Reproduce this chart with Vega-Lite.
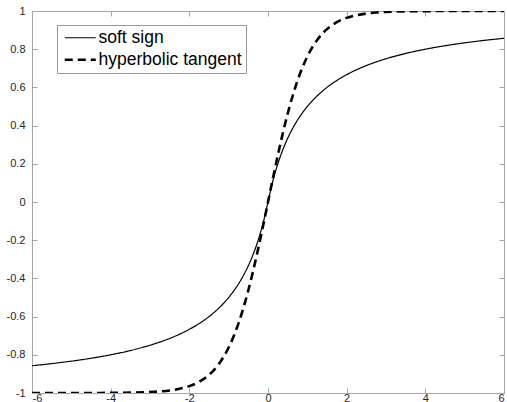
{
  "$schema": "https://vega.github.io/schema/vega-lite/v6.json",
  "width": 472,
  "height": 382,
  "autosize": {"type": "none"},
  "padding": {"left": 32, "top": 11, "right": 3, "bottom": 9},
  "background": "white",
  "config": {
    "view": {"stroke": null},
    "font": "Liberation Sans",
    "axis": {
      "domainColor": "#a6a6a6",
      "domainWidth": 1,
      "tickColor": "#a6a6a6",
      "tickSize": -5,
      "grid": false,
      "labelFont": "Liberation Sans",
      "labelFontSize": 11,
      "labelColor": "#262626",
      "title": null
    },
    "legend": {
      "orient": "none",
      "legendX": 25,
      "legendY": 14,
      "strokeColor": "#9a9a9a",
      "fillColor": "white",
      "padding": 4,
      "labelFont": "Liberation Sans",
      "labelFontSize": 17.5,
      "labelColor": "black",
      "labelOffset": 20,
      "symbolType": "M-1,0H5.2",
      "symbolSize": 100,
      "symbolStrokeColor": "black",
      "rowPadding": 3
    }
  },
  "data": {
    "values": [
      {"x": -6, "y": -0.857143, "series": "soft sign"},
      {"x": -5.5, "y": -0.846154, "series": "soft sign"},
      {"x": -5, "y": -0.833333, "series": "soft sign"},
      {"x": -4.5, "y": -0.818182, "series": "soft sign"},
      {"x": -4, "y": -0.8, "series": "soft sign"},
      {"x": -3.5, "y": -0.777778, "series": "soft sign"},
      {"x": -3, "y": -0.75, "series": "soft sign"},
      {"x": -2.75, "y": -0.733333, "series": "soft sign"},
      {"x": -2.5, "y": -0.714286, "series": "soft sign"},
      {"x": -2.25, "y": -0.692308, "series": "soft sign"},
      {"x": -2, "y": -0.666667, "series": "soft sign"},
      {"x": -1.75, "y": -0.636364, "series": "soft sign"},
      {"x": -1.5, "y": -0.6, "series": "soft sign"},
      {"x": -1.375, "y": -0.578947, "series": "soft sign"},
      {"x": -1.25, "y": -0.555556, "series": "soft sign"},
      {"x": -1.125, "y": -0.529412, "series": "soft sign"},
      {"x": -1, "y": -0.5, "series": "soft sign"},
      {"x": -0.875, "y": -0.466667, "series": "soft sign"},
      {"x": -0.75, "y": -0.428571, "series": "soft sign"},
      {"x": -0.625, "y": -0.384615, "series": "soft sign"},
      {"x": -0.5, "y": -0.333333, "series": "soft sign"},
      {"x": -0.375, "y": -0.272727, "series": "soft sign"},
      {"x": -0.25, "y": -0.2, "series": "soft sign"},
      {"x": -0.125, "y": -0.111111, "series": "soft sign"},
      {"x": 0, "y": 0, "series": "soft sign"},
      {"x": 0.125, "y": 0.111111, "series": "soft sign"},
      {"x": 0.25, "y": 0.2, "series": "soft sign"},
      {"x": 0.375, "y": 0.272727, "series": "soft sign"},
      {"x": 0.5, "y": 0.333333, "series": "soft sign"},
      {"x": 0.625, "y": 0.384615, "series": "soft sign"},
      {"x": 0.75, "y": 0.428571, "series": "soft sign"},
      {"x": 0.875, "y": 0.466667, "series": "soft sign"},
      {"x": 1, "y": 0.5, "series": "soft sign"},
      {"x": 1.125, "y": 0.529412, "series": "soft sign"},
      {"x": 1.25, "y": 0.555556, "series": "soft sign"},
      {"x": 1.375, "y": 0.578947, "series": "soft sign"},
      {"x": 1.5, "y": 0.6, "series": "soft sign"},
      {"x": 1.75, "y": 0.636364, "series": "soft sign"},
      {"x": 2, "y": 0.666667, "series": "soft sign"},
      {"x": 2.25, "y": 0.692308, "series": "soft sign"},
      {"x": 2.5, "y": 0.714286, "series": "soft sign"},
      {"x": 2.75, "y": 0.733333, "series": "soft sign"},
      {"x": 3, "y": 0.75, "series": "soft sign"},
      {"x": 3.5, "y": 0.777778, "series": "soft sign"},
      {"x": 4, "y": 0.8, "series": "soft sign"},
      {"x": 4.5, "y": 0.818182, "series": "soft sign"},
      {"x": 5, "y": 0.833333, "series": "soft sign"},
      {"x": 5.5, "y": 0.846154, "series": "soft sign"},
      {"x": 6, "y": 0.857143, "series": "soft sign"},
      {"x": -6, "y": -0.999988, "series": "hyperbolic tangent"},
      {"x": -5.5, "y": -0.999967, "series": "hyperbolic tangent"},
      {"x": -5, "y": -0.999909, "series": "hyperbolic tangent"},
      {"x": -4.5, "y": -0.999753, "series": "hyperbolic tangent"},
      {"x": -4, "y": -0.999329, "series": "hyperbolic tangent"},
      {"x": -3.5, "y": -0.998178, "series": "hyperbolic tangent"},
      {"x": -3, "y": -0.995055, "series": "hyperbolic tangent"},
      {"x": -2.75, "y": -0.991815, "series": "hyperbolic tangent"},
      {"x": -2.5, "y": -0.986614, "series": "hyperbolic tangent"},
      {"x": -2.25, "y": -0.978026, "series": "hyperbolic tangent"},
      {"x": -2, "y": -0.964028, "series": "hyperbolic tangent"},
      {"x": -1.75, "y": -0.941376, "series": "hyperbolic tangent"},
      {"x": -1.5, "y": -0.905148, "series": "hyperbolic tangent"},
      {"x": -1.375, "y": -0.879827, "series": "hyperbolic tangent"},
      {"x": -1.25, "y": -0.848284, "series": "hyperbolic tangent"},
      {"x": -1.125, "y": -0.809301, "series": "hyperbolic tangent"},
      {"x": -1, "y": -0.761594, "series": "hyperbolic tangent"},
      {"x": -0.875, "y": -0.704248, "series": "hyperbolic tangent"},
      {"x": -0.75, "y": -0.635149, "series": "hyperbolic tangent"},
      {"x": -0.625, "y": -0.5546, "series": "hyperbolic tangent"},
      {"x": -0.5, "y": -0.462117, "series": "hyperbolic tangent"},
      {"x": -0.375, "y": -0.358357, "series": "hyperbolic tangent"},
      {"x": -0.25, "y": -0.244919, "series": "hyperbolic tangent"},
      {"x": -0.125, "y": -0.124353, "series": "hyperbolic tangent"},
      {"x": 0, "y": 0, "series": "hyperbolic tangent"},
      {"x": 0.125, "y": 0.124353, "series": "hyperbolic tangent"},
      {"x": 0.25, "y": 0.244919, "series": "hyperbolic tangent"},
      {"x": 0.375, "y": 0.358357, "series": "hyperbolic tangent"},
      {"x": 0.5, "y": 0.462117, "series": "hyperbolic tangent"},
      {"x": 0.625, "y": 0.5546, "series": "hyperbolic tangent"},
      {"x": 0.75, "y": 0.635149, "series": "hyperbolic tangent"},
      {"x": 0.875, "y": 0.704248, "series": "hyperbolic tangent"},
      {"x": 1, "y": 0.761594, "series": "hyperbolic tangent"},
      {"x": 1.125, "y": 0.809301, "series": "hyperbolic tangent"},
      {"x": 1.25, "y": 0.848284, "series": "hyperbolic tangent"},
      {"x": 1.375, "y": 0.879827, "series": "hyperbolic tangent"},
      {"x": 1.5, "y": 0.905148, "series": "hyperbolic tangent"},
      {"x": 1.75, "y": 0.941376, "series": "hyperbolic tangent"},
      {"x": 2, "y": 0.964028, "series": "hyperbolic tangent"},
      {"x": 2.25, "y": 0.978026, "series": "hyperbolic tangent"},
      {"x": 2.5, "y": 0.986614, "series": "hyperbolic tangent"},
      {"x": 2.75, "y": 0.991815, "series": "hyperbolic tangent"},
      {"x": 3, "y": 0.995055, "series": "hyperbolic tangent"},
      {"x": 3.5, "y": 0.998178, "series": "hyperbolic tangent"},
      {"x": 4, "y": 0.999329, "series": "hyperbolic tangent"},
      {"x": 4.5, "y": 0.999753, "series": "hyperbolic tangent"},
      {"x": 5, "y": 0.999909, "series": "hyperbolic tangent"},
      {"x": 5.5, "y": 0.999967, "series": "hyperbolic tangent"},
      {"x": 6, "y": 0.999988, "series": "hyperbolic tangent"}
    ]
  },
  "layer": [
    {
      "mark": {"type": "line", "color": "black", "interpolate": "monotone", "clip": true},
      "encoding": {
        "x": {
          "field": "x", "type": "quantitative",
          "scale": {"domain": [-6, 6], "nice": false, "zero": false},
          "axis": {"orient": "bottom", "values": [-6, -4, -2, 0, 2, 4, 6], "labelExpr": "datum.value + ''", "labelPadding": 4}
        },
        "y": {
          "field": "y", "type": "quantitative",
          "scale": {"domain": [-1, 1], "nice": false, "zero": false},
          "axis": {"orient": "left", "values": [-1, -0.8, -0.6, -0.4, -0.2, 0, 0.2, 0.4, 0.6, 0.8, 1], "labelExpr": "datum.value + ''", "labelPadding": 12}
        },
        "strokeDash": {
          "field": "series", "type": "nominal",
          "scale": {"domain": ["soft sign", "hyperbolic tangent"], "range": [[1, 0], [8, 5]]},
          "legend": {"title": null}
        },
        "strokeWidth": {
          "field": "series", "type": "nominal",
          "scale": {"domain": ["soft sign", "hyperbolic tangent"], "range": [1.2, 2.6]},
          "legend": {"title": null}
        }
      }
    },
    {
      "mark": {"type": "line", "strokeOpacity": 0},
      "encoding": {
        "x": {
          "field": "x", "type": "quantitative",
          "scale": {"domain": [-6, 6], "nice": false, "zero": false},
          "axis": {"orient": "top", "values": [-6, -4, -2, 0, 2, 4, 6], "labels": false}
        },
        "y": {
          "field": "y", "type": "quantitative",
          "scale": {"domain": [-1, 1], "nice": false, "zero": false},
          "axis": {"orient": "right", "values": [-1, -0.8, -0.6, -0.4, -0.2, 0, 0.2, 0.4, 0.6, 0.8, 1], "labels": false}
        }
      }
    }
  ],
  "resolve": {"axis": {"x": "independent", "y": "independent"}}
}
